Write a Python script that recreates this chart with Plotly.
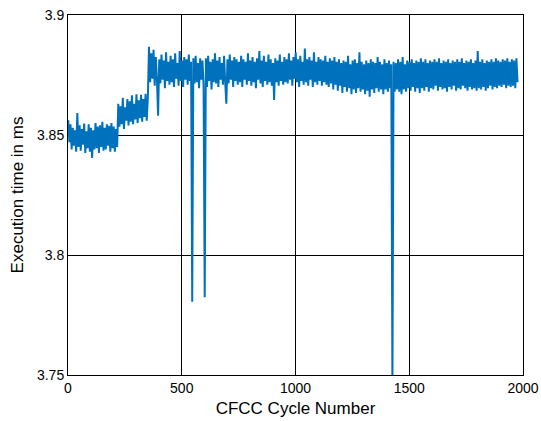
import plotly.graph_objects as go

# cycle numbers (sampled every 5 cycles)
cycles = list(range(1, 1977, 5))

seg_low = [
    3.8562, 3.8470, 3.8545, 3.8440, 3.8530, 3.8455, 3.8520, 3.8430, 3.8592, 3.8450,
    3.8540, 3.8435, 3.8525, 3.8460, 3.8548, 3.8425, 3.8515, 3.8445, 3.8545, 3.8430,
    3.8530, 3.8404, 3.8520, 3.8440, 3.8550, 3.8445, 3.8535, 3.8425, 3.8540, 3.8450,
    3.8555, 3.8435, 3.8530, 3.8440, 3.8545, 3.8455, 3.8538, 3.8430, 3.8550, 3.8445,
    3.8535, 3.8430, 3.8525, 3.8450,
]
seg_mid = [
    3.8630, 3.8535, 3.8620, 3.8545, 3.8655, 3.8525, 3.8615, 3.8560, 3.8650, 3.8540,
    3.8640, 3.8555, 3.8665, 3.8545, 3.8630, 3.8565, 3.8670, 3.8550, 3.8645, 3.8570,
    3.8668, 3.8555, 3.8650, 3.8575, 3.8672, 3.8560, 3.8655,
]
seg_high = [
    3.8868, 3.8720, 3.8840, 3.8735, 3.8855, 3.8705, 3.8825, 3.8730, 3.8580, 3.8815,
    3.8715, 3.8835, 3.8730, 3.8810, 3.8695, 3.8845, 3.8725, 3.8805, 3.8710, 3.8830,
    3.8720, 3.8815, 3.8700, 3.8840, 3.8735, 3.8800, 3.8705, 3.8850, 3.8725, 3.8810,
    3.8700, 3.8825, 3.8730, 3.8815, 3.8710, 3.8835, 3.8725, 3.8805, 3.7805, 3.8820,
    3.8715, 3.8830, 3.8720, 3.8800, 3.8695, 3.8820, 3.8730, 3.8810, 3.8705, 3.7824,
    3.8820, 3.8700, 3.8830, 3.8725, 3.8805, 3.8690, 3.8815, 3.8720, 3.8840, 3.8715,
    3.8810, 3.8700, 3.8825, 3.8730, 3.8800, 3.8710, 3.8830, 3.8720, 3.8630, 3.8815,
    3.8715, 3.8835, 3.8730, 3.8810, 3.8700, 3.8825, 3.8725, 3.8815, 3.8710, 3.8805,
    3.8720, 3.8830, 3.8700, 3.8815, 3.8730, 3.8805, 3.8710, 3.8840, 3.8725, 3.8810,
    3.8705, 3.8825, 3.8720, 3.8805, 3.8695, 3.8820, 3.8730, 3.8850, 3.8715, 3.8810,
    3.8700, 3.8830, 3.8725, 3.8805, 3.8710, 3.8835, 3.8720, 3.8815, 3.8705, 3.8800,
    3.8646, 3.8820, 3.8720, 3.8810, 3.8705, 3.8835, 3.8725, 3.8805, 3.8710, 3.8825,
    3.8720, 3.8815, 3.8715, 3.8840, 3.8730, 3.8810, 3.8705, 3.8825, 3.8735, 3.8845,
    3.8720, 3.8815, 3.8700, 3.8830, 3.8725, 3.8805, 3.8710, 3.8860, 3.8720, 3.8815,
    3.8705, 3.8825, 3.8730, 3.8810, 3.8700, 3.8845, 3.8720, 3.8805, 3.8710, 3.8825,
    3.8725, 3.8815, 3.8705, 3.8810, 3.8720, 3.8830, 3.8710, 3.8805, 3.8700, 3.8820,
    3.8715, 3.8810, 3.8690, 3.8825, 3.8710, 3.8805, 3.8685, 3.8815, 3.8705, 3.8800,
    3.8675, 3.8810, 3.8700, 3.8805, 3.8680, 3.8830, 3.8695, 3.8795, 3.8670, 3.8810,
    3.8690, 3.8815, 3.8675, 3.8800, 3.8695, 3.8845, 3.8680, 3.8805, 3.8690, 3.8795,
    3.8670, 3.8810, 3.8685, 3.8800, 3.8660, 3.8815, 3.8690, 3.8805, 3.8675, 3.8800,
    3.8695, 3.8825, 3.8680, 3.8805, 3.8690, 3.8795, 3.8670, 3.8815, 3.8690, 3.8800,
    3.8680, 3.8810, 3.8695, 3.8795, 3.7450, 3.8805, 3.8680, 3.8800, 3.8690, 3.8815,
    3.8680, 3.8805, 3.8670, 3.8825, 3.8690, 3.8795, 3.8680, 3.8810, 3.8695, 3.8805,
    3.8685, 3.8815, 3.8700, 3.8800, 3.8680, 3.8810, 3.8695, 3.8805, 3.8675, 3.8820,
    3.8695, 3.8805, 3.8685, 3.8815, 3.8700, 3.8800, 3.8680, 3.8810, 3.8695, 3.8805,
    3.8690, 3.8815, 3.8705, 3.8805, 3.8685, 3.8820, 3.8700, 3.8800, 3.8690, 3.8810,
    3.8695, 3.8805, 3.8680, 3.8815, 3.8700, 3.8800, 3.8690, 3.8810, 3.8705, 3.8805,
    3.8685, 3.8815, 3.8695, 3.8805, 3.8690, 3.8820, 3.8705, 3.8800, 3.8695, 3.8810,
    3.8685, 3.8805, 3.8700, 3.8815, 3.8690, 3.8800, 3.8695, 3.8810, 3.8685, 3.8850,
    3.8695, 3.8805, 3.8690, 3.8815, 3.8700, 3.8800, 3.8685, 3.8810, 3.8695, 3.8805,
    3.8705, 3.8815, 3.8690, 3.8805, 3.8700, 3.8820, 3.8695, 3.8810, 3.8705, 3.8805,
    3.8700, 3.8815, 3.8710, 3.8810, 3.8695, 3.8820, 3.8705, 3.8805, 3.8700, 3.8815,
    3.8705, 3.8810, 3.8695, 3.8820, 3.8720,
]
exec_time = seg_low + seg_mid + seg_high

x_ticks = [0, 500, 1000, 1500, 2000]
y_ticks = [3.75, 3.8, 3.85, 3.9]
y_tick_text = ["3.75", "3.8", "3.85", "3.9"]

n = min(len(cycles), len(exec_time))

fig = go.Figure()
fig.add_trace(go.Scatter(
    x=cycles[:n], y=exec_time[:n], mode="lines",
    line=dict(color="#0072BD", width=2), showlegend=False,
))

axis_common = dict(
    showline=True, linecolor="black", linewidth=1, mirror=True,
    showgrid=True, gridcolor="black", gridwidth=1,
    zeroline=False, ticks="", layer="above traces", automargin=False,
    tickfont=dict(family="Liberation Sans, Arial, sans-serif", size=14, color="black"),
)
fig.update_layout(
    width=541, height=421,
    margin=dict(l=68, r=18, t=15, b=46),
    paper_bgcolor="white", plot_bgcolor="white",
    font=dict(family="Liberation Sans, Arial, sans-serif", color="black"),
    xaxis=dict(range=[0, 2000], tickvals=x_ticks,
               title=dict(text="CFCC Cycle Number", font=dict(size=17), standoff=7),
               **axis_common),
    yaxis=dict(range=[3.75, 3.9], tickvals=y_ticks, ticktext=y_tick_text,
               title=dict(text="Execution time in ms", font=dict(size=17), standoff=9),
               **axis_common),
)
fig.write_html("out.html")
